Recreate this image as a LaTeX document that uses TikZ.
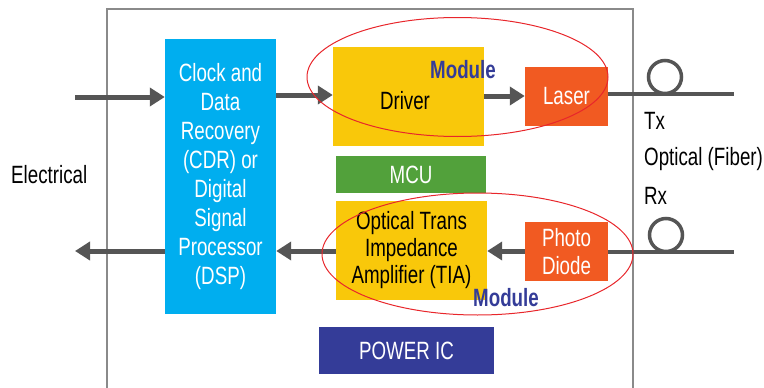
\documentclass[tikz,border=0pt]{standalone}
\usepackage{fontspec}
\setmainfont[FakeStretch=0.75]{Liberation Sans}
\usetikzlibrary{arrows.meta}
\definecolor{cdrblue}{HTML}{00AEEF}
\definecolor{ylw}{HTML}{F9C80A}
\definecolor{org}{HTML}{F15A22}
\definecolor{grn}{HTML}{52A13B}
\definecolor{navy}{HTML}{343C98}
\definecolor{arrgray}{HTML}{555555}
\definecolor{framegray}{HTML}{8A8A8A}
\definecolor{ellred}{HTML}{E8262B}
\tikzset{
  blk/.style={draw=none, inner sep=0pt, align=center, text=white,
    font=\fontsize{25}{28}\selectfont},
  arr/.style={draw=arrgray, line width=5pt, -{Triangle[length=15pt,width=18pt]}},
  fib/.style={draw=arrgray, line width=3.5pt},
  lbl/.style={inner sep=0pt, font=\fontsize{25}{28}\selectfont},
  modlbl/.style={inner sep=0pt, text=navy, font=\fontsize{25}{28}\selectfont\bfseries},
  ell/.style={draw=ellred, line width=1pt}
}
\begin{document}
\begin{tikzpicture}[x=1pt,y=-1pt]
\useasboundingbox (0,0) rectangle (764,388);
% frame
\draw[framegray, line width=1.5pt] (107,390) -- (107,9) -- (633,9) -- (633,390);
% blocks
\node[blk, fill=cdrblue, minimum width=111pt, minimum height=275pt,
  font=\fontsize{25}{29}\selectfont] (cdr) at (220.5,176.5)
  {Clock and\\Data\\Recovery\\(CDR) or\\Digital\\Signal\\Processor\\(DSP)};
\node[blk, fill=ylw, text=black, minimum width=151pt, minimum height=99pt] (drv) at (408.5,96.5) {};
\node[lbl] at (405,101) {Driver};
\node[blk, fill=org, minimum width=83pt, minimum height=59pt] (laser) at (566.5,96.5) {Laser};
\node[blk, fill=grn, minimum width=150pt, minimum height=37pt] (mcu) at (411,174.5) {MCU};
\node[blk, fill=ylw, text=black, minimum width=151pt, minimum height=99pt,
  font=\fontsize{25}{27}\selectfont] (tia) at (411.5,250.5)
  {Optical Trans\\Impedance\\Amplifier (TIA)};
\node[blk, fill=org, minimum width=83pt, minimum height=59pt] (pd) at (566.5,251.5) {Photo\\Diode};
\node[blk, fill=navy, minimum width=175pt, minimum height=47pt] (pwr) at (406.5,350.5) {POWER IC};
% electrical side
\coordinate (ein) at (75,97);
\coordinate (eout) at (75,251);
\draw[arr] (ein) -- (cdr.west |- ein);
\draw[arr] (cdr.west |- eout) -- (eout);
\draw[arr] (cdr.east |- 0,95) -- (drv.west |- 0,95);
\draw[arr] (drv.east |- 0,96) -- (laser.west |- 0,96);
\draw[arr] (pd.west |- 0,251) -- (tia.east |- 0,251);
\draw[arr] (tia.west |- 0,251) -- (cdr.east |- 0,251);
% fibers
\coordinate (txend) at (734,94);
\coordinate (rxend) at (734,252);
\draw[fib] (laser.east |- txend) -- (txend);
\draw[fib] (pd.east |- rxend) -- (rxend);
\node[draw=arrgray, line width=3.5pt, circle, minimum size=33pt, inner sep=0pt] (txloop) at (665,77) {};
\node[draw=arrgray, line width=3.5pt, circle, minimum size=33pt, inner sep=0pt] (rxloop) at (666,235) {};
% labels
\node[lbl, anchor=west] (tx) at (644,121) {Tx};
\node[lbl, anchor=west] (opt) at (644,159) {Optical (Fiber)};
\node[lbl, anchor=west] (rx) at (644,196) {Rx};
\node[lbl, anchor=west] (elec) at (11,175) {Electrical};
% module ellipses
\draw[ell] (457.5,77) ellipse [x radius=150.5, y radius=59.5];
\draw[ell] (477.5,254) ellipse [x radius=155.5, y radius=61];
\node[modlbl] (mod1) at (463,70) {Module};
\node[modlbl] (mod2) at (506,298) {Module};
\end{tikzpicture}
\end{document}
